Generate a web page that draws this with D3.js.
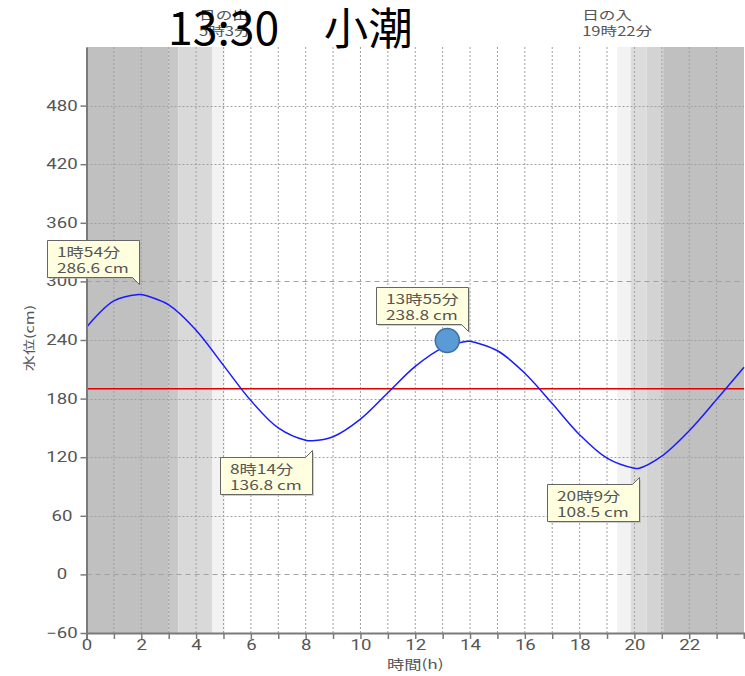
<!DOCTYPE html>
<html>
<head>
<meta charset="utf-8">
<script src="https://cdn.jsdelivr.net/npm/d3@7"></script>
<style>
  html, body { margin: 0; padding: 0; background: #fff; }
  svg { display: block; }
</style>
</head>
<body>
<svg id="chart" width="745" height="676"></svg>
<script>
// ---------- data ----------
const titleText = "13:30\u3000小潮";
const hours  = [0, 1, 1.9, 2, 3, 4, 5, 6, 7, 8, 8.233, 9, 10, 11, 12, 13, 13.917, 14, 15, 16, 17, 18, 19, 20, 20.15, 21, 22, 23, 24];
const levels = [253, 280, 286.6, 286.5, 276, 250, 214, 178, 150, 137.3, 136.8, 141, 159, 186, 213, 232, 238.8, 238.7, 229, 206, 175, 143, 119, 108.7, 108.5, 121, 147, 179, 212];

const extremeLabels = ["1時54分", "8時14分", "13時55分", "20時9分"];
const extremeHours  = [1.9, 8.233, 13.917, 20.15];
const extremeLevels = [286.6, 136.8, 238.8, 108.5];
const extremeTypes  = ["high", "low", "high", "low"];

const markerHour = 13.17;
const markerLevel = 239.5;
const referenceLevel = 190;

const sunLabels = [["日の出", "5時3分"], ["日の入", "19時22分"]];
const sunHours  = [5.05, 19.37];

const bandStarts = [0, 3.0, 3.35, 4.58, 19.37, 19.87, 20.45, 21.05];
const bandEnds   = [3.0, 3.35, 4.58, 5.05, 19.87, 20.45, 21.05, 24];
const bandFills  = ["#c0c0c0", "#c8c8c8", "#d9d9d9", "#f2f2f2", "#f2f2f2", "#dcdcdc", "#d3d3d3", "#c0c0c0"];

const yTicks = [-60, 0, 60, 120, 180, 240, 300, 360, 420, 480];
const xTickLabels = [0, 2, 4, 6, 8, 10, 12, 14, 16, 18, 20, 22];
const xMinorTicks = d3.range(0, 24, 1);
const dashedGrid = [0, 300];

// ---------- layout ----------
const svg = d3.select("#chart");
const pLeft = 86.5, pRight = 744, pTop = 47, pBottom = 633;
const x = d3.scaleLinear().domain([0, 24]).range([pLeft, pRight]);
const y = d3.scaleLinear().domain([-60, 540]).range([pBottom, pTop]);
const jp = "'Noto Sans CJK JP', 'Noto Sans', sans-serif";
const num = "Roboto, 'Noto Sans', sans-serif";
const textGray = "#555";
const SX = 1.33; // horizontal stretch of chart texts

function stretchedText(parent, tx, ty, str, opts) {
  const g = parent.append("g").attr("transform", `translate(${tx},${ty}) scale(${opts.sx || SX},1)`);
  return g.append("text")
    .attr("text-anchor", opts.anchor || "start")
    .attr("fill", opts.fill || textGray)
    .attr("font-size", opts.size || 13)
    .attr("font-family", opts.family || jp)
    .text(str);
}

// background bands
svg.append("g").selectAll("rect").data(bandStarts).join("rect")
  .attr("x", (d) => x(d))
  .attr("width", (d, i) => x(bandEnds[i]) - x(d))
  .attr("y", pTop).attr("height", pBottom - pTop)
  .attr("fill", (d, i) => bandFills[i]);

// grid
const grid = svg.append("g");
grid.selectAll("line.v").data(xMinorTicks.slice(1)).join("line")
  .attr("class", "v")
  .attr("x1", (d) => x(d)).attr("x2", (d) => x(d))
  .attr("y1", pTop).attr("y2", pBottom)
  .attr("stroke", "#a0a0a0").attr("stroke-width", 1)
  .attr("stroke-dasharray", "2,2");
grid.selectAll("line.h").data(yTicks.filter(d => d > -60)).join("line")
  .attr("class", "h")
  .attr("x1", pLeft).attr("x2", pRight)
  .attr("y1", (d) => Math.round(y(d)) + 0.5).attr("y2", (d) => Math.round(y(d)) + 0.5)
  .attr("stroke", "#a0a0a0").attr("stroke-width", 1)
  .attr("stroke-dasharray", (d) => dashedGrid.includes(d) ? "5,4" : "2,2");

// reference line
svg.append("line")
  .attr("x1", pLeft).attr("x2", pRight)
  .attr("y1", y(referenceLevel)).attr("y2", y(referenceLevel))
  .attr("stroke", "#e00000").attr("stroke-width", 1.5);

// tide curve
const line = d3.line().x((d, i) => x(hours[i])).y((d) => y(d)).curve(d3.curveCatmullRom);
svg.append("path").datum(levels)
  .attr("d", line)
  .attr("fill", "none").attr("stroke", "#1a1aff").attr("stroke-width", 1.5);

// axes
const xAxis = svg.append("g").attr("transform", `translate(0,${pBottom})`)
  .call(d3.axisBottom(x).tickValues(xMinorTicks).tickSize(6).tickFormat((d) => xTickLabels.includes(d) ? d : ""));
xAxis.select(".domain").attr("stroke", "#7a7a7a").attr("stroke-width", 2);
xAxis.selectAll(".tick line").attr("stroke", "#7a7a7a").attr("stroke-width", 1.5);
xAxis.selectAll(".tick text").attr("fill", textGray).attr("font-size", 14).attr("font-family", num)
  .attr("y", 7).attr("dy", "0.75em").attr("transform", `scale(${SX},1)`);

const yAxis = svg.append("g").attr("transform", `translate(${pLeft},0)`)
  .call(d3.axisLeft(y).tickValues(yTicks).tickSize(6).tickSizeOuter(0));
yAxis.select(".domain").attr("stroke", "#7a7a7a").attr("stroke-width", 2);
yAxis.selectAll(".tick line").attr("stroke", "#7a7a7a").attr("stroke-width", 1.5);
yAxis.selectAll(".tick text").attr("fill", textGray).attr("font-size", 14).attr("font-family", num)
  .attr("text-anchor", "middle").attr("x", (62 - pLeft) / SX).attr("transform", `scale(${SX},1)`);

// axis titles
stretchedText(svg, x(12), 669, "時間(h)", { anchor: "middle", size: 13 });
svg.append("g").attr("transform", "translate(34,338) rotate(-90) scale(1.35,1)")
  .append("text").attr("text-anchor", "middle").attr("fill", textGray)
  .attr("font-size", 12).attr("font-family", jp).text("水位(cm)");

// sunrise/sunset labels (block centred on the event, lines left aligned)
sunHours.forEach((h, i) => {
  const g = svg.append("g");
  const t1 = stretchedText(g, 0, 20, sunLabels[i][0], { size: 12.5 });
  const t2 = stretchedText(g, 0, 36, sunLabels[i][1], { size: 12.5 });
  const w = Math.max(t1.node().getComputedTextLength(), t2.node().getComputedTextLength()) * SX;
  g.attr("transform", `translate(${x(h) - w / 2},0)`);
});

// callouts
const boxW = 92, boxH = 37, tailW = 7;
extremeHours.forEach((h, i) => {
  const px = x(h), py = y(extremeLevels[i]);
  const g = svg.append("g");
  const r = Math.round(px) + 0.5;
  const l = r - boxW;
  let path, top0;
  if (extremeTypes[i] === "high") {
    const b = Math.round(py - 17) + 0.5;
    top0 = b - boxH;
    path = `M${l},${top0}H${r}V${b + 7}L${r - tailW},${b}H${l}Z`;
  } else {
    top0 = Math.round(py + 16) + 0.5;
    path = `M${l},${top0}H${r - tailW}L${r},${top0 - 7}V${top0 + boxH}H${l}Z`;
  }
  g.append("path").attr("d", path).attr("transform", "translate(1.5,1.5)")
    .attr("fill", "#b0b0b0").attr("opacity", 0.6);
  g.append("path").attr("d", path).attr("fill", "#ffffe0")
    .attr("stroke", "#666").attr("stroke-width", 1);
  stretchedText(g, l + 9.5, top0 + 16, extremeLabels[i], { size: 13 });
  stretchedText(g, l + 9.5, top0 + 32, extremeLevels[i].toFixed(1) + " cm", { size: 13 });
});

// current marker
svg.append("circle")
  .attr("cx", x(markerHour)).attr("cy", y(markerLevel)).attr("r", 12)
  .attr("fill", "#5b9bd5").attr("stroke", "#3d6f9e").attr("stroke-width", 1.5);

// title
svg.append("text").attr("x", 168).attr("y", 45)
  .attr("fill", "#000").attr("font-size", 44.5).attr("font-family", jp)
  .text(titleText);
</script>
</body>
</html>
